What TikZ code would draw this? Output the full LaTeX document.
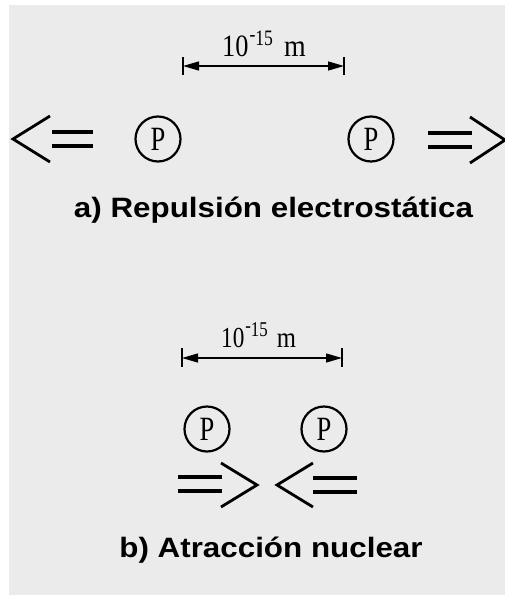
\documentclass[tikz,border=0pt]{standalone}
\usepackage{fontspec}
\setmainfont{Liberation Serif}
\newfontfamily\labelsans{Liberation Sans}
\usetikzlibrary{arrows.meta}
\definecolor{bggray}{RGB}{235,235,235}
\begin{document}
\begin{tikzpicture}[x=1pt,y=-1pt,
  proton/.style={circle,draw,line width=2.2pt,minimum size=45pt,inner sep=0pt,
    font=\fontsize{34}{34}\selectfont},
  dimline/.style={line width=1.3pt,{Triangle[length=16pt,width=9pt]}-{Triangle[length=16pt,width=9pt]}},
  tickline/.style={line width=2.2pt},
  chev/.style={line width=2.8pt,line join=miter},
  barline/.style={line width=3.2pt},
  caption/.style={font=\labelsans\bfseries\fontsize{28}{30}\selectfont,anchor=base,inner sep=0pt},
  dimlabel/.style={anchor=base west,inner sep=0pt}
]
\useasboundingbox (0,0) rectangle (505,595);
\fill[bggray] (9,5) rectangle (505,595);

% ---------- a) ----------
\coordinate (a1) at (183,66);
\coordinate (a2) at (344,66);
\coordinate (a1t) at (183,57); \coordinate (a1b) at (183,75);
\coordinate (a2t) at (344,57); \coordinate (a2b) at (344,75);
\draw[tickline] (a1t) -- (a1b);
\draw[tickline] (a2t) -- (a2b);
\draw[dimline] (a1) -- (a2);
\node[dimlabel,font=\fontsize{31}{31}\selectfont] (la) at (222,56)
  {\scalebox{0.85}[1]{10}\hspace{1pt}{\fontsize{22}{22}\selectfont\raisebox{11pt}{\scalebox{0.8}[1]{\raisebox{4pt}{-}15}}}\hspace{11pt}\scalebox{0.9}[1]{m}};

\node[proton] (pa1) at (158,139) {\scalebox{0.78}[1]{P}};
\node[proton] (pa2) at (371,139) {\scalebox{0.78}[1]{P}};

% left double arrow
\draw[chev] (50,116) -- (13,139) -- (50,162);
\draw[barline] (52,132) -- (93,132);
\draw[barline] (52,146) -- (93,146);
% right double arrow
\draw[barline] (428,133) -- (472,133);
\draw[barline] (428,147) -- (472,147);
\draw[chev] (470,117) -- (505,140) -- (470,163);

\node[caption] (ca) at (273.5,217) {\scalebox{1.12}[1]{a) Repulsión electrostática}};

% ---------- b) ----------
\coordinate (b1) at (182,358);
\coordinate (b2) at (342,358);
\coordinate (b1t) at (182,348); \coordinate (b1b) at (182,367);
\coordinate (b2t) at (342,348); \coordinate (b2b) at (342,367);
\draw[tickline] (b1t) -- (b1b);
\draw[tickline] (b2t) -- (b2b);
\draw[dimline] (b1) -- (b2);
\node[dimlabel,font=\fontsize{29}{29}\selectfont] (lb) at (221,347)
  {\scalebox{0.8}[1]{10}\hspace{1pt}{\fontsize{21}{21}\selectfont\raisebox{11pt}{\scalebox{0.8}[1]{\raisebox{4pt}{-}15}}}\hspace{9pt}\scalebox{0.85}[1]{m}};

\node[proton] (pb1) at (207,429) {\scalebox{0.78}[1]{P}};
\node[proton] (pb2) at (324,429) {\scalebox{0.78}[1]{P}};

% converging double arrows
\draw[barline] (178,477) -- (222,477);
\draw[barline] (178,491) -- (222,491);
\draw[chev] (221,463) -- (257,485) -- (221,507);
\draw[chev] (313,463) -- (277,485) -- (313,507);
\draw[barline] (313,478) -- (357,478);
\draw[barline] (313,492) -- (357,492);

\node[caption] (cb) at (271,557) {\scalebox{1.12}[1]{b) Atracción nuclear}};
\end{tikzpicture}
\end{document}
